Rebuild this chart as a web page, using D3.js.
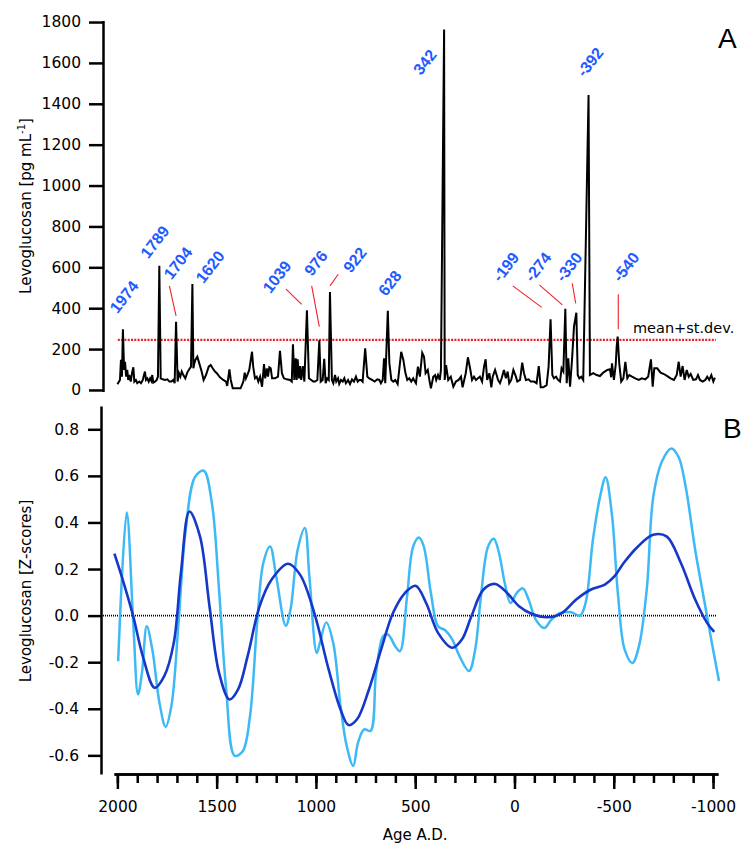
<!DOCTYPE html>
<html>
<head>
  <title>Levoglucosan record</title>
  <script src="https://d3js.org/d3.v7.min.js"></script>
  <style>
  body {
    margin: 0;
    background: #fff;
  }

  .axis path,
  .axis line {
    stroke: #000;
    stroke-width: 2.5;
  }

  .axis text {
    font-family: "DejaVu Sans", sans-serif;
    font-size: 15.5px;
    fill: #000;
  }

  .title {
    font-family: "DejaVu Sans", sans-serif;
    font-size: 15px;
  }

  .peak {
    font-family: "Liberation Sans", Arial, sans-serif;
    font-weight: bold;
    font-size: 16px;
    fill: #1f5bff;
  }
  </style>
</head>
<body>
  <script>

    // panel A: levoglucosan concentration, pg/mL
    var ages = [2002, 1989, 1984, 1979, 1974, 1968, 1963, 1958, 1952, 1947, 1942, 1934, 1928, 1921, 1916, 1908, 1901, 1891, 1882, 1873,
      1867, 1862, 1857, 1850, 1843, 1836, 1830, 1825, 1820, 1811, 1802, 1796, 1789, 1782, 1772, 1760, 1748, 1738, 1728, 1718,
      1711, 1704, 1696, 1689, 1682, 1675, 1667, 1657, 1647, 1637, 1628, 1621, 1616, 1611, 1606, 1596, 1586, 1574, 1564, 1552,
      1538, 1528, 1518, 1506, 1497, 1481, 1464, 1450, 1444, 1433, 1426, 1416, 1396, 1376, 1362, 1355, 1349, 1342, 1332, 1318,
      1312, 1303, 1294, 1286, 1277, 1267, 1257, 1251, 1243, 1237, 1230, 1223, 1216, 1201, 1186, 1176, 1166, 1156, 1142, 1125,
      1116, 1110, 1103, 1096, 1091, 1086, 1079, 1074, 1068, 1060, 1052, 1039, 1029, 1017, 1007, 998, 986, 976, 969, 959,
      951, 944, 936, 928, 922, 912, 905, 896, 890, 881, 875, 866, 857, 849, 841, 830, 820, 810, 800, 790,
      781, 773, 764, 756, 743, 732, 722, 708, 695, 681, 671, 663, 654, 647, 641, 628, 620, 610, 600, 590,
      578, 570, 560, 549, 539, 529, 519, 509, 499, 495, 485, 475, 465, 453, 444, 436, 425, 417, 409, 397,
      388, 382, 373, 364, 358, 342, 339, 332, 321, 308, 295, 282, 268, 256, 248, 232, 221, 210, 200, 190,
      180, 170, 160, 149, 139, 131, 123, 112, 102, 95, 83, 75, 68, 58, 48, 38, 28, 19, 11, 1,
      -10, -23, -30, -44, -55, -64, -74, -88, -98, -115, -128, -139, -149, -162, -179, -189, -199, -208, -216, -227,
      -237, -247, -255, -264, -274, -281, -289, -298, -308, -318, -330, -337, -345, -355, -365, -392, -399, -416, -433, -450,
      -467, -487, -501, -507, -511, -521, -530, -535, -540, -548, -558, -569, -579, -589, -599, -613, -629, -647, -663, -680,
      -695, -709, -718, -726, -741, -758, -775, -792, -809, -826, -840, -850, -860, -870, -880, -891, -901, -911, -924, -938,
      -948, -958, -972, -985, -995, -1005, -1016, -1026, -1034];

    var levo = [28, 49, 147, 65, 297, 98, 138, 65, 98, 49, 73, 41, 82, 111, 41, 49, 33, 41, 33, 49,
      73, 90, 49, 57, 41, 57, 45, 73, 36, 41, 49, 65, 608, 57, 52, 49, 52, 41, 41, 49,
      33, 333, 41, 82, 65, 90, 73, 57, 85, 101, 114, 518, 106, 130, 147, 163, 130, 90, 49, 73,
      114, 122, 106, 90, 82, 62, 49, 41, 20, 101, 49, 8, 8, 8, 41, 85, 57, 73, 98, 187,
      114, 57, 65, 41, 65, 16, 127, 57, 106, 65, 111, 106, 57, 57, 65, 192, 82, 57, 52, 49,
      41, 224, 49, 155, 49, 150, 57, 117, 49, 117, 41, 390, 57, 49, 41, 41, 49, 243, 41, 49,
      152, 33, 57, 49, 479, 49, 33, 73, 41, 57, 29, 49, 41, 57, 33, 49, 29, 52, 41, 65,
      41, 49, 49, 41, 204, 65, 57, 49, 41, 52, 49, 33, 49, 155, 33, 387, 130, 49, 41, 49,
      29, 98, 187, 147, 85, 49, 57, 41, 57, 49, 33, 114, 65, 182, 163, 82, 98, 49, 8, 65,
      73, 49, 73, 49, 98, 1764, 49, 122, 49, 65, 16, 41, 49, 65, 13, 82, 160, 106, 49, 65,
      49, 57, 65, 41, 114, 150, 49, 82, 13, 65, 98, 73, 49, 33, 62, 98, 57, 90, 33, 49,
      98, 65, 41, 49, 134, 82, 49, 52, 41, 41, 33, 117, 13, 13, 24, 114, 346, 73, 57, 65,
      49, 41, 106, 90, 397, 33, 155, 16, 147, 310, 378, 73, 57, 65, 49, 1443, 73, 82, 73, 68,
      85, 98, 101, 62, 130, 49, 122, 212, 261, 130, 41, 57, 138, 57, 73, 65, 57, 49, 57, 52,
      65, 150, 16, 106, 106, 85, 78, 68, 57, 49, 73, 138, 65, 117, 49, 98, 65, 78, 49, 52,
      73, 49, 41, 49, 65, 49, 73, 41, 60];

    var meanPlusSd = 245;

    // labelled peaks: text, label anchor (age, level)
    var peakNames = ["1974", "1789", "1704", "1620", "1039", "976", "922", "628", "342", "-199", "-274", "-330", "-392", "-540"];
    var peakLabelAge = [1968, 1811, 1694, 1531, 1191, 993, 795, 617, 439, 28, -135, -293, -399, -582];
    var peakLabelLevel = [455, 724, 621, 602, 553, 621, 636, 523, 1604, 602, 602, 602, 1604, 602];

    // red leader lines: from (age, level) to (age, level)
    var leaderFromAge = [1738, 1145, 1015, 880, -7, -142, -309, -543];
    var leaderFromLevel = [509, 493, 509, 566, 509, 514, 522, 468];
    var leaderToAge = [1704, 1066, 976, 922, -154, -259, -327, -543];
    var leaderToLevel = [362, 419, 310, 509, 404, 416, 424, 297];

    // panel B: z-scores, two smoothings
    var zAges = [1996, 1953, 1920, 1896, 1876, 1852, 1824, 1788, 1757, 1728, 1692, 1656, 1608, 1565, 1524, 1488, 1452, 1409, 1368, 1332,
      1296, 1265, 1231, 1200, 1152, 1128, 1092, 1056, 1033, 996, 980, 948, 913, 876, 845, 812, 788, 757, 725, 697,
      661, 637, 601, 577, 541, 510, 481, 457, 421, 385, 349, 313, 277, 229, 198, 169, 133, 104, 78, 49,
      20, -11, -42, -71, -107, -150, -186, -227, -287, -330, -358, -395, -431, -459, -490, -522, -555, -594, -627, -666,
      -699, -742, -790, -826, -862, -910, -958, -994, -1030];
    var zFine = [-0.196, 0.443, -0.031, -0.338, -0.245, -0.046, -0.146, -0.374, -0.477, -0.388, -0.031, 0.368, 0.597, 0.622, 0.483, 0.111, -0.317, -0.602, -0.581, -0.431,
      -0.031, 0.226, 0.297, 0.168, -0.043, 0.026, 0.283, 0.376, 0.168, -0.16, -0.117, -0.029, -0.117, -0.388, -0.56, -0.645, -0.545, -0.488, -0.495, -0.245,
      -0.088, -0.081, -0.131, -0.153, 0.083, 0.297, 0.335, 0.297, 0.097, -0.046, -0.063, -0.103, -0.174, -0.238, -0.146, 0.083, 0.297, 0.33, 0.269, 0.14,
      0.054, 0.097, 0.117, 0.069, -0.017, -0.053, -0.017, 0.011, 0.014, 0.0, 0.054, 0.325, 0.511, 0.594, 0.44, 0.083, -0.146, -0.203, -0.131, 0.111,
      0.511, 0.661, 0.718, 0.682, 0.554, 0.283, 0.054, -0.117, -0.281];

    var zAgesSmooth = [2015, 1968, 1920, 1872, 1812, 1764, 1716, 1680, 1637, 1584, 1536, 1488, 1435, 1392, 1344, 1284, 1224, 1140, 1080, 1008,
      936, 876, 836, 793, 733, 672, 612, 552, 498, 445, 385, 313, 265, 217, 157, 97, 37, -23, -83, -167,
      -239, -311, -383, -455, -503, -550, -622, -699, -766, -838, -910, -970, -1006];
    var zSmooth = [0.266, 0.14, -0.003, -0.174, -0.31, -0.26, -0.117, 0.183, 0.447, 0.34, 0.04, -0.245, -0.36, -0.317, -0.174, 0.04, 0.154, 0.223, 0.176, 0.011,
      -0.231, -0.403, -0.47, -0.445, -0.317, -0.146, 0.011, 0.097, 0.128, 0.054, -0.074, -0.138, -0.103, -0.003, 0.111, 0.136, 0.097, 0.04, 0.009, -0.007,
      0.011, 0.069, 0.111, 0.133, 0.168, 0.226, 0.297, 0.347, 0.34, 0.226, 0.069, -0.031, -0.07];

    var yTicksA = d3.range(0, 1801, 200);
    var yTicksB = [0.8, 0.6, 0.4, 0.2, 0.0, -0.2, -0.4, -0.6];
    var xMajor = [2000, 1500, 1000, 500, 0, -500, -1000];
    var xMinor = d3.range(-1000, 2001, 100);

    var width = 742;
    var height = 843;

    var svg = d3.select("body")
      .append("svg")
      .attr("width", width)
      .attr("height", height);

    // ---- panel A ----
    var xA = d3.scaleLinear().domain([2000, -1000]).range([117.8, 708.2]);
    var yA = d3.scaleLinear().domain([-8, 1807]).range([391.6, 20.6]);

    svg.append("g")
      .attr("class", "axis")
      .attr("transform", "translate(103,0)")
      .call(d3.axisLeft(yA).tickValues(yTicksA).tickSize(14).tickSizeOuter(0).tickPadding(8).tickFormat(d3.format("d")));

    svg.append("line")
      .attr("x1", xA(2000))
      .attr("x2", xA(-1034) + 1)
      .attr("y1", yA(meanPlusSd))
      .attr("y2", yA(meanPlusSd))
      .attr("stroke", "#e8202a")
      .attr("stroke-width", 2.2)
      .attr("stroke-dasharray", "2,1.3");

    var lineA = d3.line()
      .x(function(d, i) { return xA(ages[i]); })
      .y(function(d) { return yA(d); });

    svg.append("path")
      .datum(levo)
      .attr("fill", "none")
      .attr("stroke", "#000")
      .attr("stroke-width", 2)
      .attr("d", lineA);

    svg.selectAll(".leader")
      .data(leaderFromAge)
      .enter()
      .append("line")
      .attr("class", "leader")
      .attr("x1", function(d) { return xA(d); })
      .attr("y1", function(d, i) { return yA(leaderFromLevel[i]); })
      .attr("x2", function(d, i) { return xA(leaderToAge[i]); })
      .attr("y2", function(d, i) { return yA(leaderToLevel[i]); })
      .attr("stroke", "#f0202a")
      .attr("stroke-width", 1.1);

    svg.selectAll(".peak")
      .data(peakNames)
      .enter()
      .append("text")
      .attr("class", "peak")
      .attr("text-anchor", "middle")
      .attr("dominant-baseline", "central")
      .attr("transform", function(d, i) {
        return "translate(" + xA(peakLabelAge[i]) + "," + yA(peakLabelLevel[i]) + ") rotate(-52)";
      })
      .text(function(d) { return d; });

    svg.append("text")
      .attr("class", "title")
      .attr("x", 633)
      .attr("y", yA(meanPlusSd) - 7)
      .style("font-size", "14.5px")
      .text("mean+st.dev.");

    var titleA = svg.append("text")
      .attr("class", "title")
      .attr("text-anchor", "middle")
      .attr("transform", "translate(31,206) rotate(-90)");
    titleA.append("tspan").text("Levoglucosan [pg mL");
    titleA.append("tspan").attr("dy", -6).style("font-size", "10px").text("-1");
    titleA.append("tspan").attr("dy", 6).text("]");

    svg.append("text")
      .attr("x", 718)
      .attr("y", 48)
      .style("font-family", "Liberation Sans, Arial, sans-serif")
      .style("font-size", "28px")
      .text("A");

    // ---- panel B ----
    var xB = d3.scaleLinear().domain([2017, -1025]).range([114, 718]);
    var yB = d3.scaleLinear().domain([-0.68, 0.9]).range([774, 406]);

    svg.append("g")
      .attr("class", "axis")
      .attr("transform", "translate(101,0)")
      .call(d3.axisLeft(yB).tickValues(yTicksB).tickSize(13).tickSizeOuter(0).tickPadding(9)
        .tickFormat(function(d) { return d.toFixed(1); }));

    svg.append("g")
      .attr("class", "axis")
      .attr("transform", "translate(0,774)")
      .call(d3.axisBottom(xB).tickValues(xMinor).tickSize(9).tickSizeOuter(0).tickFormat(""));

    svg.append("g")
      .attr("class", "axis")
      .attr("transform", "translate(0,774)")
      .call(d3.axisBottom(xB).tickValues(xMajor).tickSize(15).tickSizeOuter(0).tickPadding(12)
        .tickFormat(function(d) { return String(d); }));

    svg.append("line")
      .attr("x1", 103)
      .attr("x2", 716)
      .attr("y1", yB(0))
      .attr("y2", yB(0))
      .attr("stroke", "#000")
      .attr("stroke-width", 1.6)
      .attr("stroke-dasharray", "1,1");

    var lineFine = d3.line()
      .curve(d3.curveCatmullRom)
      .x(function(d, i) { return xB(zAges[i]); })
      .y(function(d) { return yB(d); });

    var lineSmooth = d3.line()
      .curve(d3.curveCatmullRom)
      .x(function(d, i) { return xB(zAgesSmooth[i]); })
      .y(function(d) { return yB(d); });

    svg.append("path")
      .datum(zFine)
      .attr("fill", "none")
      .attr("stroke", "#3db9f5")
      .attr("stroke-width", 2.5)
      .attr("d", lineFine);

    svg.append("path")
      .datum(zSmooth)
      .attr("fill", "none")
      .attr("stroke", "#1638c8")
      .attr("stroke-width", 2.6)
      .attr("d", lineSmooth);

    svg.append("text")
      .attr("class", "title")
      .attr("text-anchor", "middle")
      .attr("transform", "translate(31,591) rotate(-90)")
      .text("Levoglucosan [Z-scores]");

    svg.append("text")
      .attr("class", "title")
      .attr("text-anchor", "middle")
      .attr("x", xB(500))
      .attr("y", 840)
      .text("Age A.D.");

    svg.append("text")
      .attr("x", 723)
      .attr("y", 438)
      .style("font-family", "Liberation Sans, Arial, sans-serif")
      .style("font-size", "28px")
      .text("B");
  </script>
</body>
</html>
